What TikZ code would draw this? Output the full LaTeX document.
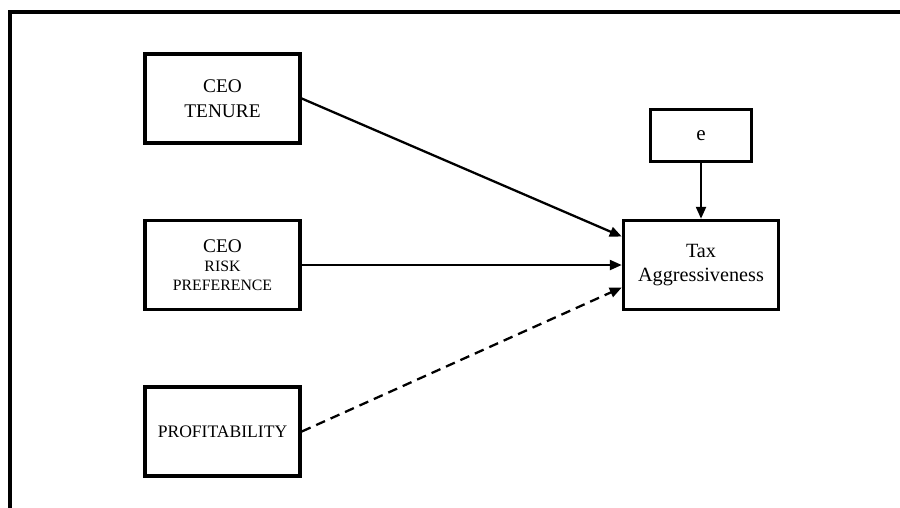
\documentclass[tikz,border=0pt]{standalone}
\usepackage{fontspec}
\setmainfont{Liberation Serif}
\usetikzlibrary{arrows.meta,positioning}

\begin{document}
\begin{tikzpicture}[
    node distance=1.48cm,
    var/.style={rectangle, draw, line width=2pt, minimum width=3.1cm, minimum height=1.78cm, align=center, font=\fontsize{11}{14}\selectfont},
    noise/.style={rectangle, draw, line width=1.7pt, minimum width=2.02cm, minimum height=1.04cm, font=\fontsize{12}{14}\selectfont},
    arrow/.style={-{Triangle[length=0.24cm,width=0.2cm]}, line width=1.3pt}
]
\useasboundingbox (0,0) rectangle (18,-10.16);

% frame
\draw[line width=1.9pt] (0.2,-10.3) -- (0.2,-0.24) -- (18.2,-0.24);

\node[var] (tenure) at (4.45,-1.97) {CEO\\TENURE};
\node[var, below=of tenure] (risk) {CEO\\[-3pt]{\fontsize{9}{11}\selectfont RISK}\\[-3pt]{\fontsize{9}{11}\selectfont PREFERENCE}};
\node[var, below=of risk] (profit) {\fontsize{10}{12}\selectfont PROFITABILITY};

\node[var, right=6.4cm of risk, font=\fontsize{11.5}{14}\selectfont] (tax) {Tax\\Aggressiveness};
\node[noise, above=1.12cm of tax] (e) {e};

\draw[arrow] (tenure.east) -- ([yshift=0.57cm]tax.west);
\draw[arrow] (risk) -- (tax);
\draw[arrow, dash pattern=on 5.5pt off 3.5pt] (profit.east) -- ([yshift=-0.45cm]tax.west);
\draw[arrow] (e) -- (tax);

\end{tikzpicture}
\end{document}
